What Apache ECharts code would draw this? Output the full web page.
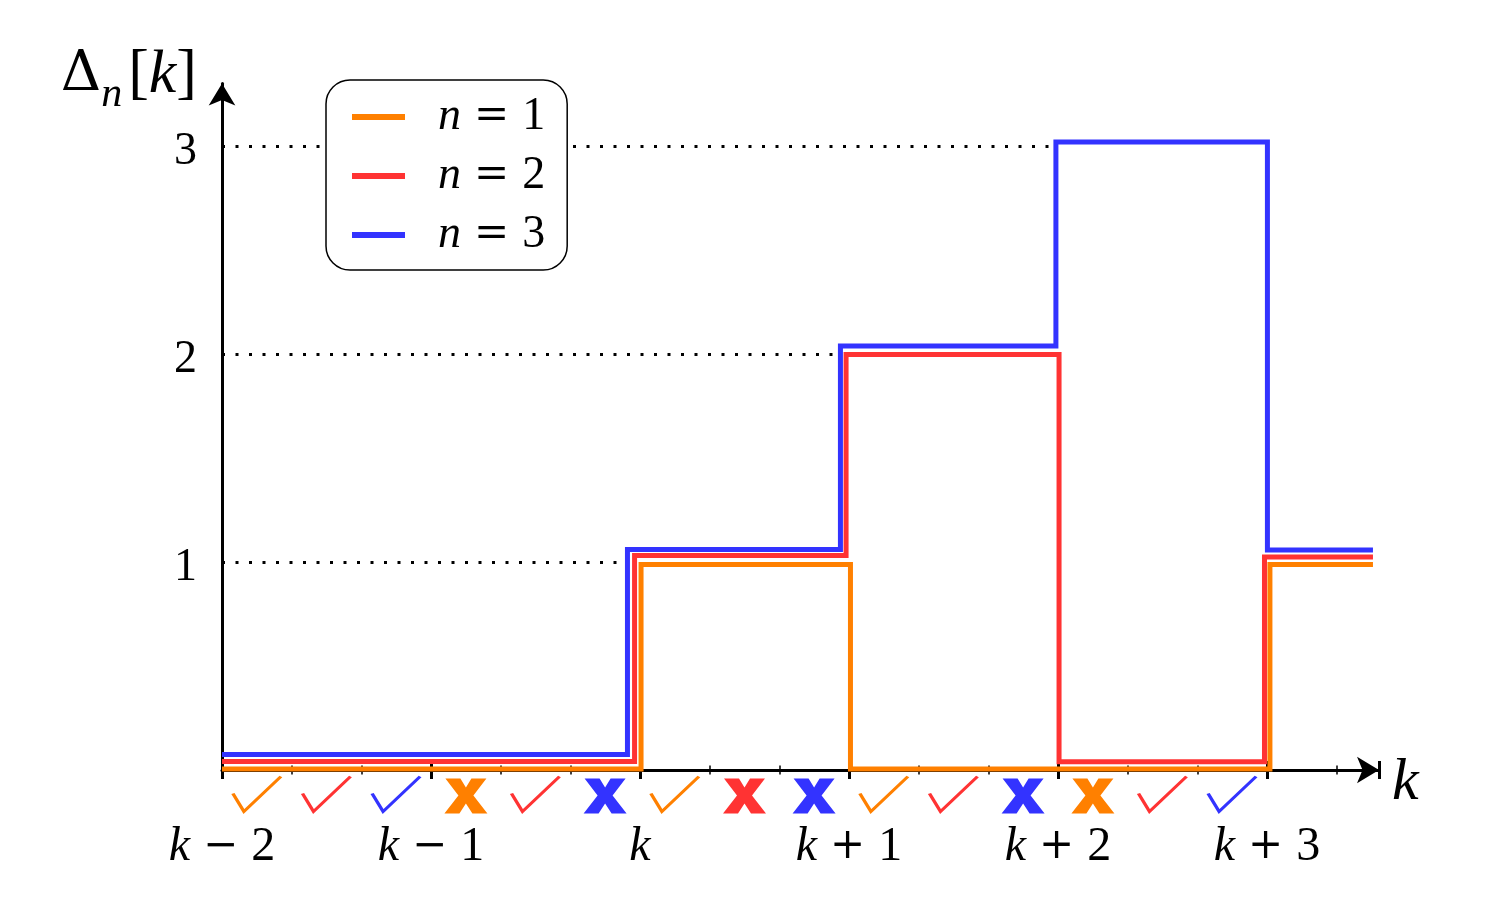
<!DOCTYPE html>
<html><head><meta charset="utf-8">
<script src="https://cdn.jsdelivr.net/npm/echarts@6/dist/echarts.min.js"></script>
<style>html,body{margin:0;padding:0;background:#fff}#c{width:1500px;height:914px}</style>
</head><body><div id="c"></div>
<script>
// ---- data ----
const kOffsets = [-2, -1, 0, 1, 2, 3];          // x tick labels: k-2 ... k+3
const yTickValues = [1, 2, 3];
const seriesN = [1, 2, 3];
const seriesColors = ['#FF8000', '#FF3333', '#3333FF'];

// step curves (x in units of k from k-2, y = Delta_n[k]); slight offsets as drawn
const n1X = [0, 2.005, 2.005, 3.007, 3.007, 5.014, 5.014, 5.507];
const n1Y = [0.005, 0.005, 0.988, 0.988, 0.005, 0.005, 0.988, 0.988];
const n2X = [0, 1.974, 1.974, 2.986, 2.986, 4.005, 4.005, 4.988, 4.988, 5.507];
const n2Y = [0.041, 0.041, 1.031, 1.031, 1.998, 1.998, 0.040, 0.040, 1.024, 1.024];
const n3X = [0, 1.94, 1.94, 2.959, 2.959, 3.99, 3.99, 5.002, 5.002, 5.507];
const n3Y = [0.075, 0.075, 1.06, 1.06, 2.038, 2.038, 3.019, 3.019, 1.058, 1.058];

// dotted guide lines
const dotLevels = [1, 2, 3];
const dotEnds = [1.92, 2.94, 3.97];

// check / cross marks under the axis
const markX = [0.167, 0.5, 0.833, 1.167, 1.5, 1.833, 2.167, 2.5, 2.833, 3.167, 3.5, 3.833, 4.167, 4.5, 4.833];
const markKinds = ['c','c','c','x','c','x','c','x','x','c','c','x','x','c','c'];
const markSeriesIdx = [0,1,2,0,1,2,0,1,2,0,1,2,0,1,2];

// ---- chart ----
const serifI = {fontFamily: 'Liberation Serif', fontStyle: 'italic'};
const X_MAX = 5.536, Y_MAX = 3.3;

function kLabel(v) {
  const i = Math.round(v);
  if (Math.abs(v - i) > 1e-6 || i < 0 || i >= kOffsets.length) return '';
  const o = kOffsets[i];
  if (o === 0) return '{k|k}';
  return '{k|k}{op|' + (o < 0 ? '\u2212' : '+') + '}{d|' + Math.abs(o) + '}';
}

const lineSets = [[n1X, n1Y], [n2X, n2Y], [n3X, n3Y]];
const seriesList = [];
[2, 1, 0].forEach(function (s) {
  const xs = lineSets[s][0], ys = lineSets[s][1];
  seriesList.push({
    name: 'n = ' + seriesN[s],
    type: 'line',
    xAxisIndex: 0, yAxisIndex: 0,
    data: xs.map(function (x, i) { return [x, ys[i]]; }),
    showSymbol: false, symbol: 'none',
    color: seriesColors[s],
    lineStyle: {width: 5, color: seriesColors[s], cap: 'butt', join: 'miter'},
    z: 3 + s, silent: true, clip: false
  });
});

seriesList.push({
  name: 'guides', type: 'line', data: [], silent: true,
  markLine: {
    symbol: 'none', silent: true, label: {show: false},
    lineStyle: {type: [3, 10.5], width: 3, color: '#000'},
    data: dotLevels.map(function (v, i) { return [{coord: [0, v]}, {coord: [dotEnds[i], v]}]; })
  },
  z: 1
});

seriesList.push({
  name: 'checks', type: 'scatter', silent: true, clip: false,
  symbol: 'path://M0,17L11,35L48,0', symbolSize: [48, 35], symbolOffset: [0, 24],
  data: markX.map(function (x, i) {
    return markKinds[i] === 'c' ? {value: [x, 0], itemStyle: {color: 'rgba(0,0,0,0)', opacity: 1, borderColor: seriesColors[markSeriesIdx[i]], borderWidth: 3}} : null;
  }).filter(Boolean),
  itemStyle: {opacity: 1},
  z: 6
});
seriesList.push({
  name: 'crosses', type: 'scatter', silent: true, clip: false,
  symbol: 'path://M0,0L15,0L20.5,9L26,0L41,0L28,17L42,35L27,35L20.5,25L14,35L-1,35L13,17Z',
  symbolSize: [43, 35], symbolOffset: [0, 26],
  data: markX.map(function (x, i) {
    return markKinds[i] === 'x' ? {value: [x, 0], itemStyle: {color: seriesColors[markSeriesIdx[i]], opacity: 1, borderWidth: 0}} : null;
  }).filter(Boolean),
  itemStyle: {opacity: 1},
  z: 6
});

const chart = echarts.init(document.getElementById('c'), null, {renderer: 'canvas'});
chart.setOption({
  animation: false,
  backgroundColor: '#fff',
  grid: {left: 222, right: 1500 - 222 - X_MAX * 209, top: 770 - Y_MAX * 208, bottom: 144, containLabel: false},
  legend: {
    data: seriesN.map(function (n) { return 'n = ' + n; }),
    orient: 'vertical', left: 326, top: 80,
    padding: [14, 22, 12, 26], itemGap: 13,
    itemWidth: 53, itemHeight: 6, icon: 'rect',
    borderColor: '#000', borderWidth: 1.5, borderRadius: 24,
    backgroundColor: '#fff',
    selectedMode: false,
    formatter: function (name) {
      return '{i|n}{op|=}{d|' + name.split('= ')[1] + '}';
    },
    textStyle: {
      padding: [0, 0, 0, 28],
      rich: {
        i: Object.assign({fontSize: 46, lineHeight: 44, color: '#000'}, serifI),
        op: {fontFamily: 'DejaVu Serif', fontSize: 42, lineHeight: 44, color: '#000', padding: [0, 13, 0, 13]},
        d: {fontFamily: 'Liberation Serif', fontSize: 46, lineHeight: 44, color: '#000'}
      }
    },
    z: 10
  },
  xAxis: [{
    type: 'value', min: 0, max: X_MAX, interval: 1, gridIndex: 0, position: 'bottom',
    name: 'k', nameLocation: 'end', nameGap: 13,
    nameTextStyle: Object.assign({fontSize: 60, lineHeight: 26, color: '#000', align: 'left', verticalAlign: 'top'}, serifI),
    axisLine: {show: true, onZero: false, symbol: ['none', 'arrow'], symbolSize: [20, 22], lineStyle: {color: '#000', width: 3}},
    axisTick: {show: true, length: 9, lineStyle: {color: '#000', width: 3}},
    minorTick: {show: true, splitNumber: 3, length: 4.5, lineStyle: {color: '#000', width: 1.5}},
    splitLine: {show: false}, minorSplitLine: {show: false},
    axisLabel: {
      show: true, margin: 52, showMaxLabel: false,
      formatter: kLabel,
      rich: {
        k: Object.assign({fontSize: 48, lineHeight: 50, color: '#000'}, serifI),
        op: {fontFamily: 'DejaVu Serif', fontSize: 42, lineHeight: 50, color: '#000', padding: [0, 13, 0, 13]},
        d: {fontFamily: 'Liberation Serif', fontSize: 48, lineHeight: 50, color: '#000'}
      }
    }
  }, {
    type: 'value', min: 0, max: X_MAX, interval: 1, gridIndex: 0, position: 'bottom',
    axisLine: {show: false},
    axisTick: {show: true, inside: true, length: 9, lineStyle: {color: '#000', width: 3}},
    minorTick: {show: true, splitNumber: 3, length: 4.5, lineStyle: {color: '#000', width: 1.5}},
    splitLine: {show: false}, axisLabel: {show: false}
  }],
  yAxis: {
    type: 'value', min: 0, max: Y_MAX, interval: 1,
    name: '{D|\u0394}{n|n}{b|[}{k|k}{b|]}', nameLocation: 'end', nameGap: 8,
    nameTextStyle: {
      align: 'right', verticalAlign: 'middle', padding: [0, 25, 0, 0],
      rich: {
        D: {fontFamily: 'DejaVu Serif', fontSize: 56, lineHeight: 70, color: '#000'},
        n: Object.assign({fontSize: 42, lineHeight: 32, padding: [38, 6, 0, 0], color: '#000'}, serifI),
        b: {fontFamily: 'Liberation Serif', fontSize: 62, lineHeight: 70, color: '#000'},
        k: Object.assign({fontSize: 62, lineHeight: 70, color: '#000'}, serifI)
      }
    },
    axisLine: {show: true, onZero: false, symbol: ['none', 'arrow'], symbolSize: [20, 22], lineStyle: {color: '#000', width: 3}},
    axisTick: {show: false},
    splitLine: {show: false},
    axisLabel: {
      show: true, margin: 25, showMaxLabel: false,
      fontFamily: 'Liberation Serif', fontSize: 46, color: '#000',
      verticalAlign: 'top', lineHeight: 12,
      formatter: function (v) { return yTickValues.indexOf(v) >= 0 ? String(v) : ''; }
    }
  },
  series: seriesList
});
</script>
</body></html>
